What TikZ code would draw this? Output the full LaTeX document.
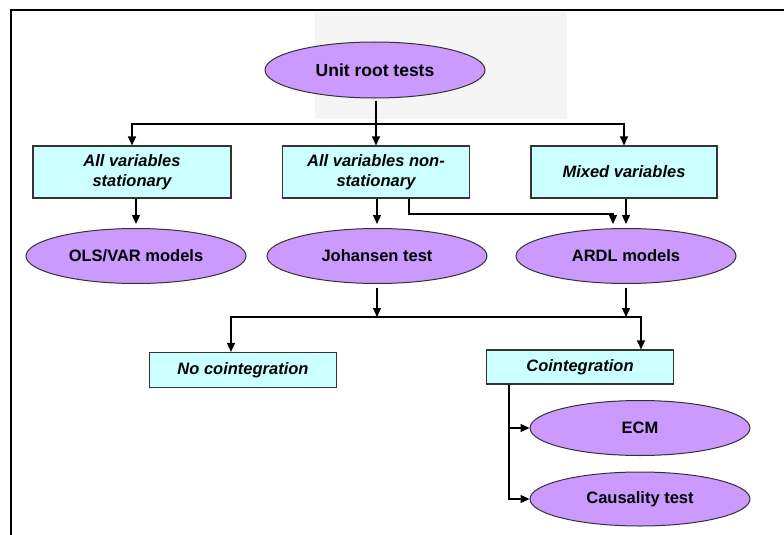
\documentclass[tikz,border=0pt]{standalone}
\usepackage{fontspec}
\setmainfont{Liberation Sans}
\usepackage{tikz}
\usetikzlibrary{calc, positioning}
\usetikzlibrary{shapes, arrows.meta}
\definecolor{lilac}{HTML}{CC99FF}
\definecolor{paleblue}{HTML}{CCFFFF}
\definecolor{edgegray}{HTML}{333333}
\tikzset{
    testnode/.style={ellipse, draw=edgegray, line width=1pt, fill=lilac, minimum width=220pt, minimum height=55pt, inner sep=0pt, font=\fontsize{16.5}{20}\selectfont\bfseries},
    casebox/.style={rectangle, draw=edgegray, line width=1.2pt, fill=paleblue, minimum height=52pt, inner sep=0pt, align=center, font=\fontsize{16.5}{20}\selectfont\bfseries\itshape},
    arr/.style={-{Triangle[length=9pt,width=8pt]}, line width=1.2pt, black},
}

\begin{document}
\begin{tikzpicture}[x=1pt, y=-1pt]
            \useasboundingbox (0,0) rectangle (784,535);
            \fill[black!4] (315,12) rectangle (567,119);
            % frame (top and left)
            \draw[line width=2pt] (11,535) -- (11,10) -- (784,10);

            \node[testnode, minimum height=56pt, font=\fontsize{17.5}{21}\selectfont\bfseries] (unit) at (375,70) {Unit root tests};

            \node[casebox, minimum width=198pt] (stat) at (132,172) {All variables\\stationary};
            \node[casebox, minimum width=187pt] (nonstat) at (376,172) {All variables non-\\stationary};
            \node[casebox, minimum width=186pt] (mixed) at (624,172) {Mixed variables};

            \node[testnode] (ols) at (136,256) {OLS/VAR models};
            \node[testnode] (joh) at (377,256) {Johansen test};
            \node[testnode] (ardl) at (626,256) {ARDL models};

            \node[casebox, minimum width=187pt, minimum height=35pt] (nocoint) at (243,370) {No cointegration};
            \node[casebox, minimum width=187pt, minimum height=34pt] (coint) at (580,367) {Cointegration};

            \node[testnode] (ecm) at (640,428) {ECM};
            \node[testnode, minimum height=54pt] (caus) at (640,499) {Causality test};

            % Draw connectors
            \coordinate (ufork) at (376,124);
            \draw[arr, shorten <=2pt] (unit.south -| ufork) -- (nonstat.north -| ufork);
            \draw[arr] (ufork) -| (stat.north);
            \draw[arr] (ufork) -| (mixed.north);

            \draw[arr, shorten >=4pt] (stat.south -| ols.north) -- (ols.north);
            \draw[arr, shorten >=4pt] (nonstat.south -| joh.north) -- (joh.north);
            \draw[arr, shorten >=4pt] (mixed.south -| ardl.north) -- (ardl.north);
            \coordinate (bypass) at (613,214);
            \draw[arr] ([xshift=33pt]nonstat.south) |- (bypass) -- ++(0,10);

            \coordinate (jfork) at (377,317);
            \coordinate (afork) at (626,317);
            \draw[arr, shorten <=4pt] (joh.south) -- (jfork);
            \draw[arr, shorten <=4pt] (ardl.south) -- (afork);
            \draw[arr] (jfork) -| ([xshift=-12pt]nocoint.north);
            \draw[arr] (jfork) -| ([xshift=61pt]coint.north);

            \draw[arr] ([xshift=-71pt]coint.south) |- (ecm.west);
            \draw[arr] ([xshift=-71pt]coint.south) |- (caus.west);
        \end{tikzpicture}
\end{document}
